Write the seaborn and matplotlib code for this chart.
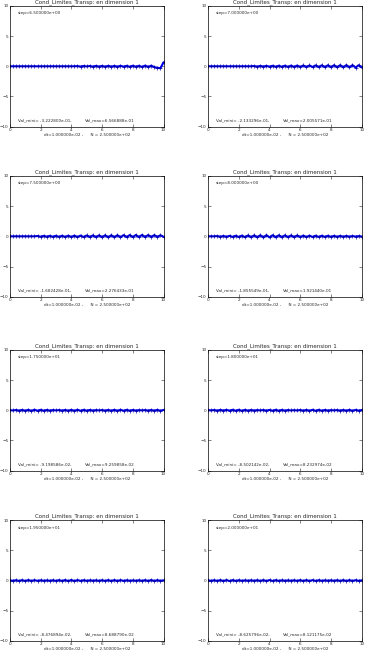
import matplotlib
matplotlib.use('Agg')
import matplotlib.pyplot as plt
import seaborn as sns
import pandas as pd

sns.set_style('white')
plt.rcParams['font.family'] = ['DejaVu Sans']

# abscissa shared by every run
X = [0.0, 0.2, 0.4, 0.6, 0.8, 1.0, 1.2, 1.4, 1.6, 1.8,
     2.0, 2.2, 2.4, 2.6, 2.8, 3.0, 3.2, 3.4, 3.6, 3.8,
     4.0, 4.2, 4.4, 4.6, 4.8, 5.0, 5.2, 5.4, 5.6, 5.8,
     6.0, 6.2, 6.4, 6.6, 6.8, 7.0, 7.2, 7.4, 7.6, 7.8,
     8.0, 8.2, 8.4, 8.6, 8.8, 9.0, 9.2, 9.4, 9.6, 9.8, 10.0]

Y1 = [0.0, 0.0, 0.0, 0.0, 0.0, 0.0, 0.0, 0.0, 0.0, 0.0,
      0.0, 0.0, 0.0, 0.0, 0.0, 0.0, 0.0, 0.0, 0.0, 0.0,
      0.0, 0.0, 0.03, -0.04, 0.05, -0.03, 0.04, -0.05, 0.06, -0.04,
      0.05, -0.06, 0.07, -0.05, 0.06, -0.07, 0.08, -0.06, 0.07, -0.08,
      0.09, -0.07, 0.08, -0.1, 0.11, -0.09, 0.1, -0.14, -0.25, -0.3222800,
      0.6566888]
Y2 = [0.0, 0.0, 0.0, 0.0, 0.0, 0.0, 0.0, 0.0, 0.0, 0.0,
      0.0, 0.0, 0.0, 0.0, 0.0, 0.04, -0.05, 0.06, -0.04, 0.07,
      -0.06, 0.08, -0.07, 0.09, -0.08, 0.1, -0.09, 0.11, -0.1, 0.12,
      -0.11, 0.13, -0.12, 0.14, -0.13, 0.15, -0.14, 0.16, -0.15, 0.17,
      -0.16, 0.18, -0.17, 0.19, -0.18, 0.2005571, -0.19, 0.19, -0.2133296, 0.18,
      -0.2]
Y3 = [0.0, 0.0, 0.0, 0.0, 0.0, 0.0, 0.0, 0.0, 0.0, 0.05,
      -0.06, 0.07, -0.05, 0.08, -0.07, 0.09, -0.08, 0.1, -0.09, 0.11,
      -0.1, 0.12, -0.11, 0.13, -0.12, 0.14, -0.13, 0.15, -0.14, 0.16,
      -0.15, 0.17, -0.1682428, 0.18, -0.16, 0.19, -0.15, 0.2, -0.14, 0.21,
      -0.13, 0.22, -0.12, 0.2276433, -0.11, 0.21, -0.1, 0.2, -0.09, 0.18,
      -0.08]
Y4 = [0.0, 0.0, 0.0, 0.04, -0.05, 0.06, -0.07, 0.08, -0.09, 0.1,
      -0.11, 0.12, -0.13, 0.14, -0.15, 0.16, -0.17, 0.18, -0.1855549, 0.1921440,
      -0.18, 0.18, -0.17, 0.17, -0.16, 0.16, -0.15, 0.15, -0.14, 0.14,
      -0.13, 0.13, -0.12, 0.12, -0.11, 0.11, -0.1, 0.1, -0.09, 0.09,
      -0.08, 0.08, -0.07, 0.07, -0.06, 0.06, -0.05, 0.05, -0.04, 0.04,
      -0.03]
Y5 = [0.02, -0.03, 0.04, -0.05, 0.06, -0.07, 0.08, -0.09198586, 0.09259858, -0.08,
      0.07, -0.06, 0.05, -0.04, 0.03, -0.02, 0.03, -0.04, 0.05, -0.06,
      0.07, -0.08, 0.09, -0.08, 0.07, -0.06, 0.05, -0.04, 0.03, -0.02,
      0.03, -0.04, 0.05, -0.06, 0.07, -0.08, 0.09, -0.08, 0.07, -0.06,
      0.05, -0.04, 0.03, -0.02, 0.03, -0.04, 0.05, -0.06, 0.07, -0.08,
      0.06]
Y6 = [0.03, -0.02, 0.04, -0.05, 0.06, -0.04, 0.07, -0.06, 0.08, -0.07,
      0.08232974, -0.08502142, 0.07, -0.06, 0.05, -0.04, 0.03, -0.02, 0.04, -0.05,
      0.06, -0.07, 0.08, -0.07, 0.06, -0.05, 0.04, -0.03, 0.02, -0.03,
      0.04, -0.05, 0.06, -0.07, 0.08, -0.08, 0.07, -0.06, 0.05, -0.04,
      0.03, -0.02, 0.03, -0.04, 0.05, -0.06, 0.07, -0.08, 0.06, -0.05,
      0.04]
Y7 = [0.02, -0.04, 0.05, -0.06, 0.07, -0.08, 0.08, -0.07, 0.06, -0.05,
      0.04, -0.03, 0.02, -0.03, 0.04, -0.05, 0.06, -0.07, 0.08, -0.08476894,
      0.0868879, -0.08, 0.07, -0.06, 0.05, -0.04, 0.03, -0.02, 0.03, -0.04,
      0.05, -0.06, 0.07, -0.08, 0.08, -0.07, 0.06, -0.05, 0.04, -0.03,
      0.02, -0.03, 0.04, -0.05, 0.06, -0.07, 0.08, -0.07, 0.06, -0.05,
      0.04]
Y8 = [0.03, -0.04, 0.05, -0.06, 0.07, -0.08, 0.08121175, -0.08625796, 0.07, -0.06,
      0.05, -0.04, 0.03, -0.02, 0.03, -0.04, 0.05, -0.06, 0.07, -0.08,
      0.08, -0.07, 0.06, -0.05, 0.04, -0.03, 0.02, -0.03, 0.04, -0.05,
      0.06, -0.07, 0.08, -0.08, 0.07, -0.06, 0.05, -0.04, 0.03, -0.02,
      0.03, -0.04, 0.05, -0.06, 0.07, -0.08, 0.07, -0.06, 0.05, -0.04,
      0.03]

STEPS = ['6.500000e+00', '7.000000e+00', '7.500000e+00', '8.000000e+00',
         '1.750000e+01', '1.800000e+01', '1.950000e+01', '2.000000e+01']
VMIN = ['-3.222800e-01', '-2.133296e-01', '-1.682428e-01', '-1.855549e-01',
        '-9.198586e-02', '-8.502142e-02', '-8.476894e-02', '-8.625796e-02']
VMAX = ['6.566888e-01', '2.005571e-01', '2.276433e-01', '1.921440e-01',
        '9.259858e-02', '8.232974e-02', '8.688790e-02', '8.121175e-02']
SERIES = [Y1, Y2, Y3, Y4, Y5, Y6, Y7, Y8]

fig = plt.figure(figsize=(3.65, 6.53), dpi=100)
fig.patch.set_facecolor('white')

lefts = [0.027, 0.570]
bottoms = [0.806, 0.5456, 0.2792, 0.0185]

for n, y in enumerate(SERIES):
    row, col = n // 2, n % 2
    ax = fig.add_axes([lefts[col], bottoms[row], 0.421, 0.185])
    df = pd.DataFrame({'x': X, 'y': y})
    sns.lineplot(data=df, x='x', y='y', ax=ax, color='#0000ee', linewidth=1.5,
                 marker='+', markersize=2.5, markeredgewidth=0.5,
                 markeredgecolor='#0000aa')
    ax.set_xlim(0, 10)
    ax.set_ylim(-10, 10)
    ax.set_xticks([0, 2, 4, 6, 8, 10])
    ax.set_yticks([-10, -5, 0, 5, 10])
    ax.tick_params(direction='in', length=2, width=0.4, labelsize=3,
                   pad=1, top=True, right=True, bottom=True, left=True)
    for s in ax.spines.values():
        s.set_linewidth(0.5)
        s.set_color('black')
    ax.set_title('Cond_Limites_Transp: en dimension 1', fontsize=4, pad=2)
    ax.set_xlabel('dt=1.000000e-02 ,      N = 2.500000e+02', fontsize=3, labelpad=0.5)
    ax.set_ylabel('')
    ax.text(0.5, 8.6, 'step=' + STEPS[n], fontsize=3)
    ax.text(0.5, -9.1, 'Val_mini= ' + VMIN[n] + ',', fontsize=3)
    ax.text(4.9, -9.1, 'Val_max=' + VMAX[n], fontsize=3)

fig.savefig('out.png', dpi=100)
